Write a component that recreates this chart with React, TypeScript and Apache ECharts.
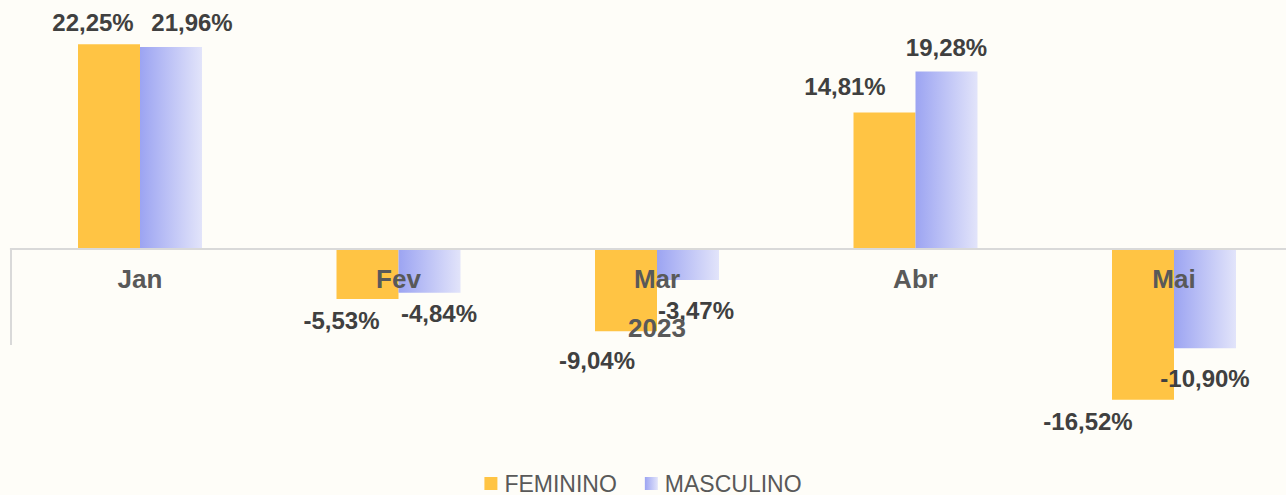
import React, { useEffect, useRef } from "react";
import * as echarts from "echarts";

const categories = ["Jan", "Fev", "Mar", "Abr", "Mai"];
const feminino = [22.25, -5.53, -9.04, 14.81, -16.52];
const masculino = [21.96, -4.84, -3.47, 19.28, -10.9];
const yearLabels = ["2023"];
const seriesNames = ["FEMININO", "MASCULINO"];

// label placement (styling only)
const femLabelOffsets = [[-16, -10], [-26, 10], [-29, 17.5], [-39.5, -14], [-55, 10]];
const mascLabelOffsets = [[21, -12], [9.5, 8.5], [8, 18.5], [0, -11.5], [0, 18]];

const FONT = "'Liberation Sans', Arial, Helvetica, sans-serif";

const fmt = (v: number) => v.toFixed(2).replace(".", ",") + "%";

export default function App() {
  const ref = useRef<HTMLDivElement>(null);
  useEffect(() => {
    if (!ref.current) return;
    const chart = echarts.init(ref.current, undefined, { renderer: "svg" });
    const labelBase = {
      show: true,
      distance: 0,
      fontSize: 24,
      lineHeight: 24,
      fontWeight: "bold" as const,
      color: "#404040",
      fontFamily: FONT,
      formatter: (p: any) => fmt(p.value),
    };
    const mkData = (vals: number[], offs: number[][]) =>
      vals.map((v, i) => ({
        value: v,
        label: { position: v >= 0 ? "top" : "bottom", offset: offs[i] },
      }));
    chart.setOption({
      animation: false,
      backgroundColor: "#FEFDF8",
      textStyle: { fontFamily: FONT },
      grid: {
        left: 10.75,
        top: 19,
        width: 1292.5,
        height: 412.65,
        outerBoundsMode: "none",
        containLabel: false,
      },
      legend: {
        data: seriesNames,
        top: 467,
        left: "center",
        icon: "rect",
        itemWidth: 13,
        itemHeight: 13,
        itemGap: 28,
        textStyle: { fontSize: 23, color: "#595959", fontFamily: FONT, padding: [0, 0, 0, 2] },
      },
      xAxis: [
        {
          type: "category",
          data: categories,
          position: "bottom",
          offset: -183.35,
          z: 10,
          axisLine: { onZero: false, lineStyle: { color: "#D9D9D9", width: 2 } },
          axisTick: { show: false },
          axisLabel: {
            fontSize: 26,
            fontWeight: "bold",
            color: "#595959",
            margin: 18,
            fontFamily: FONT,
          },
          splitLine: { show: false },
        },
        {
          type: "category",
          data: yearLabels,
          position: "bottom",
          offset: -86.65,
          z: 10,
          axisLine: { show: false, onZero: false },
          axisTick: {
            show: true,
            inside: true,
            length: 97,
            lineStyle: { color: "#D9D9D9", width: 2 },
          },
          axisLabel: {
            inside: true,
            fontSize: 26,
            fontWeight: "bold",
            color: "#595959",
            margin: 4.5,
            fontFamily: FONT,
          },
          splitLine: { show: false },
        },
      ],
      yAxis: {
        type: "value",
        min: -20,
        max: 25,
        axisLine: { show: false },
        axisTick: { show: false },
        axisLabel: { show: false },
        splitLine: { show: false },
      },
      series: [
        {
          name: seriesNames[0],
          type: "bar",
          xAxisIndex: 0,
          barWidth: 62,
          barGap: "0%",
          itemStyle: { color: "#FFC444" },
          label: labelBase,
          data: mkData(feminino, femLabelOffsets),
        },
        {
          name: seriesNames[1],
          type: "bar",
          xAxisIndex: 0,
          barWidth: 62,
          barGap: "0%",
          itemStyle: {
            color: new echarts.graphic.LinearGradient(0, 0, 1, 0, [
              { offset: 0, color: "#9CA4F2" },
              { offset: 1, color: "#E2E4FA" },
            ]),
          },
          label: labelBase,
          data: mkData(masculino, mascLabelOffsets),
        },
      ],
    });
    return () => chart.dispose();
  }, []);
  return (
    <div
      ref={ref}
      style={{ position: "absolute", left: 0, top: 0, width: 1286, height: 495 }}
    />
  );
}
